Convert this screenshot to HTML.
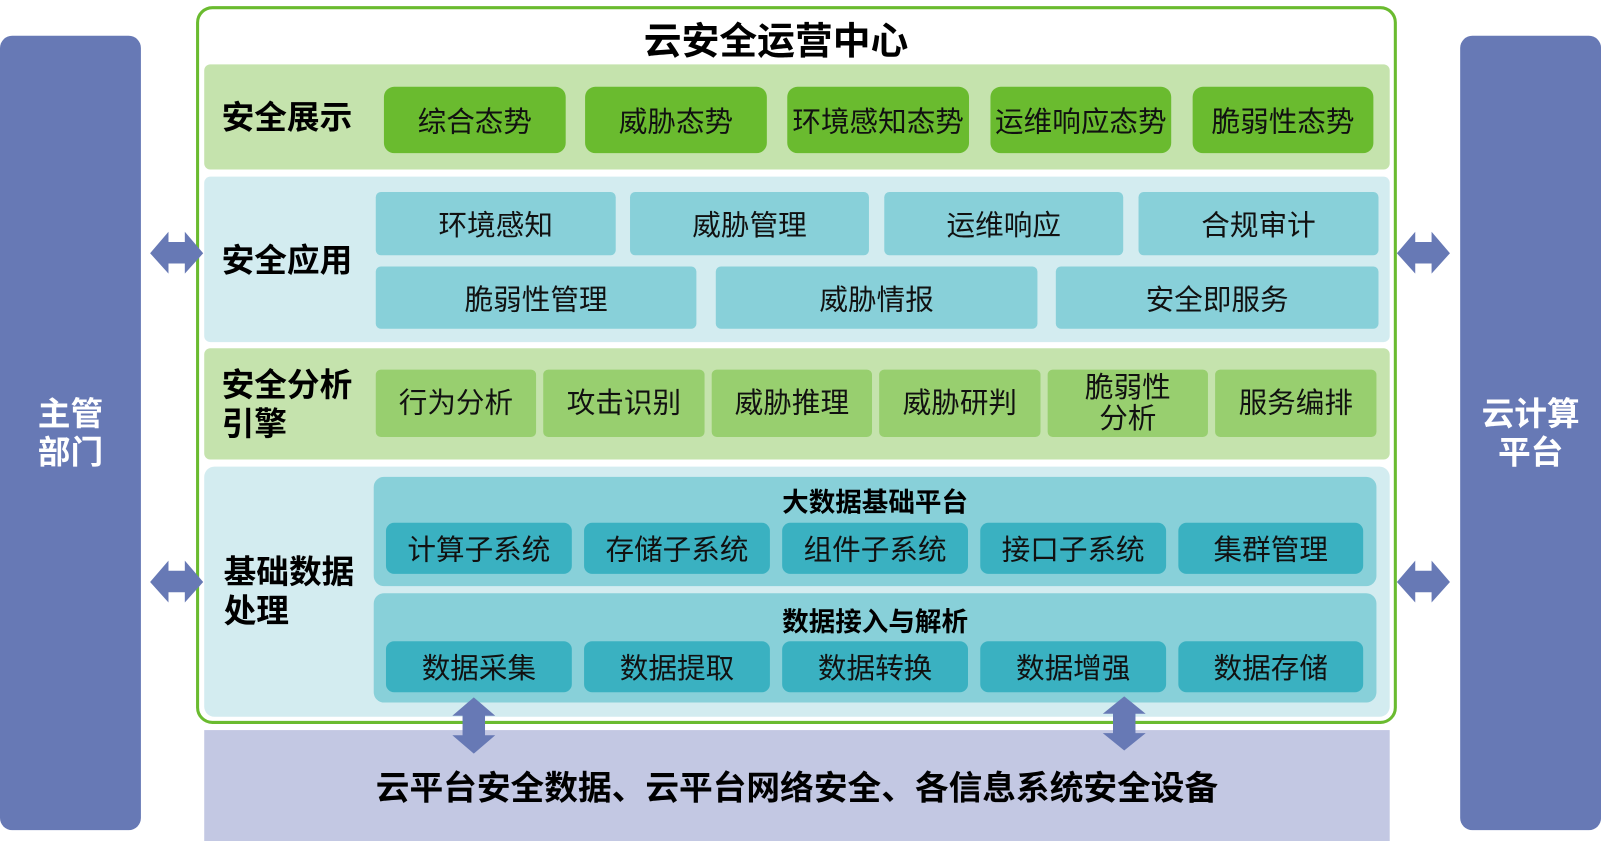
<!DOCTYPE html>
<html><head><meta charset="utf-8"><style>
*{margin:0;padding:0;box-sizing:border-box}
html,body{width:1601px;height:841px;overflow:hidden;background:#fff}
#w{position:absolute;left:0;top:0;width:1568px;height:824px;transform:scale(1.0211);transform-origin:0 0;font-family:"Liberation Sans","Noto Sans CJK SC",sans-serif}
.a{position:absolute}
.c{position:absolute;display:flex;align-items:center;justify-content:center;text-align:center;color:#111}
.side{background:#6779b5;border-radius:12px;color:#fff;font-weight:bold;font-size:32px;line-height:38px}
.band{border-radius:6px}
.lab{position:absolute;font-weight:bold;font-size:32px;line-height:38px;color:#000}
.g{background:#6abb2f;border-radius:10px;font-size:28px}
.lb{background:#88d0d9;border-radius:5px;font-size:28px}
.lg{background:#98cf6f;border-radius:5px;font-size:28px;line-height:30px}
.t{background:#3ab1c1;border-radius:8px;font-size:28px}
.st{position:absolute;font-weight:bold;font-size:26px;color:#000;width:100%;text-align:center}
</style></head><body><div id="w">
<div class="c side" style="left:0;top:35px;width:138px;height:778px">主管<br>部门</div>
<div class="c side" style="left:1430px;top:35px;width:138px;height:778px">云计算<br>平台</div>
<div class="a" style="left:192px;top:6px;width:1176px;height:703px;border:3px solid #6abb2f;border-radius:16px"></div>
<div class="c" style="left:192px;top:12px;width:1136px;height:50px;font-weight:bold;font-size:37px;color:#000">云安全运营中心</div>

<div class="a band" style="left:200px;top:63px;width:1161px;height:103px;background:#c5e3ad"></div>
<div class="lab" style="left:217px;top:96px">安全展示</div>
<div class="c g" style="left:376px;top:85px;width:178px;height:65px">综合态势</div>
<div class="c g" style="left:573px;top:85px;width:178px;height:65px">威胁态势</div>
<div class="c g" style="left:771px;top:85px;width:178px;height:65px">环境感知态势</div>
<div class="c g" style="left:970px;top:85px;width:177px;height:65px">运维响应态势</div>
<div class="c g" style="left:1168px;top:85px;width:177px;height:65px">脆弱性态势</div>

<div class="a band" style="left:200px;top:173px;width:1161px;height:162px;background:#d3ecf0"></div>
<div class="lab" style="left:217px;top:236px">安全应用</div>
<div class="c lb" style="left:368px;top:188px;width:235px;height:62px">环境感知</div>
<div class="c lb" style="left:617px;top:188px;width:234px;height:62px">威胁管理</div>
<div class="c lb" style="left:866px;top:188px;width:234px;height:62px">运维响应</div>
<div class="c lb" style="left:1115px;top:188px;width:235px;height:62px">合规审计</div>
<div class="c lb" style="left:368px;top:261px;width:314px;height:61px">脆弱性管理</div>
<div class="c lb" style="left:701px;top:261px;width:315px;height:61px">威胁情报</div>
<div class="c lb" style="left:1034px;top:261px;width:316px;height:61px">安全即服务</div>

<div class="a band" style="left:200px;top:341px;width:1161px;height:109px;background:#c5e3ad"></div>
<div class="lab" style="left:217px;top:358px">安全分析<br>引擎</div>
<div class="c lg" style="left:368px;top:362px;width:157px;height:66px">行为分析</div>
<div class="c lg" style="left:532px;top:362px;width:158px;height:66px">攻击识别</div>
<div class="c lg" style="left:697px;top:362px;width:157px;height:66px">威胁推理</div>
<div class="c lg" style="left:861px;top:362px;width:158px;height:66px">威胁研判</div>
<div class="c lg" style="left:1026px;top:362px;width:157px;height:66px">脆弱性<br>分析</div>
<div class="c lg" style="left:1190px;top:362px;width:158px;height:66px">服务编排</div>

<div class="a band" style="left:200px;top:457px;width:1161px;height:245px;background:#d3ecf0;border-radius:10px"></div>
<div class="lab" style="left:219px;top:541px">基础数据<br>处理</div>
<div class="a" style="left:366px;top:467px;width:982px;height:107px;background:#88d0d9;border-radius:10px"><div class="st" style="top:5px">大数据基础平台</div></div>
<div class="c t" style="left:378px;top:512px;width:182px;height:50px">计算子系统</div>
<div class="c t" style="left:572px;top:512px;width:182px;height:50px">存储子系统</div>
<div class="c t" style="left:766px;top:512px;width:182px;height:50px">组件子系统</div>
<div class="c t" style="left:960px;top:512px;width:182px;height:50px">接口子系统</div>
<div class="c t" style="left:1154px;top:512px;width:181px;height:50px">集群管理</div>
<div class="a" style="left:366px;top:581px;width:982px;height:107px;background:#88d0d9;border-radius:10px"><div class="st" style="top:8px">数据接入与解析</div></div>
<div class="c t" style="left:378px;top:628px;width:182px;height:50px">数据采集</div>
<div class="c t" style="left:572px;top:628px;width:182px;height:50px">数据提取</div>
<div class="c t" style="left:766px;top:628px;width:182px;height:50px">数据转换</div>
<div class="c t" style="left:960px;top:628px;width:182px;height:50px">数据增强</div>
<div class="c t" style="left:1154px;top:628px;width:181px;height:50px">数据存储</div>

<div class="c" style="left:200px;top:715px;width:1161px;height:109px;background:#c3c8e3;font-weight:bold;font-size:33px;color:#000;padding-bottom:2px">云平台安全数据、云平台网络安全、各信息系统安全设备</div>

<svg class="a" style="left:0;top:0" width="1568" height="824">
<g fill="#6779b5">
<polygon points="147,248 165,227 165,237 181,237 181,227 199,248 181,268 181,258 165,258 165,268"/>
<polygon points="147,570 165,549 165,559 181,559 181,549 199,570 181,590 181,580 165,580 165,590"/>
<polygon points="1368,248 1386,227 1386,237 1402,237 1402,227 1420,248 1402,268 1402,258 1386,258 1386,268"/>
<polygon points="1368,570 1386,549 1386,559 1402,559 1402,549 1420,570 1402,590 1402,580 1386,580 1386,590"/>
<polygon points="464,683 485,701 475,701 475,720 485,720 464,738 443,720 453,720 453,701 443,701"/>
<polygon points="1101,682 1122,699 1112,699 1112,718 1122,718 1101,735 1080,718 1090,718 1090,699 1080,699"/>
</g></svg>
</div></body></html>
